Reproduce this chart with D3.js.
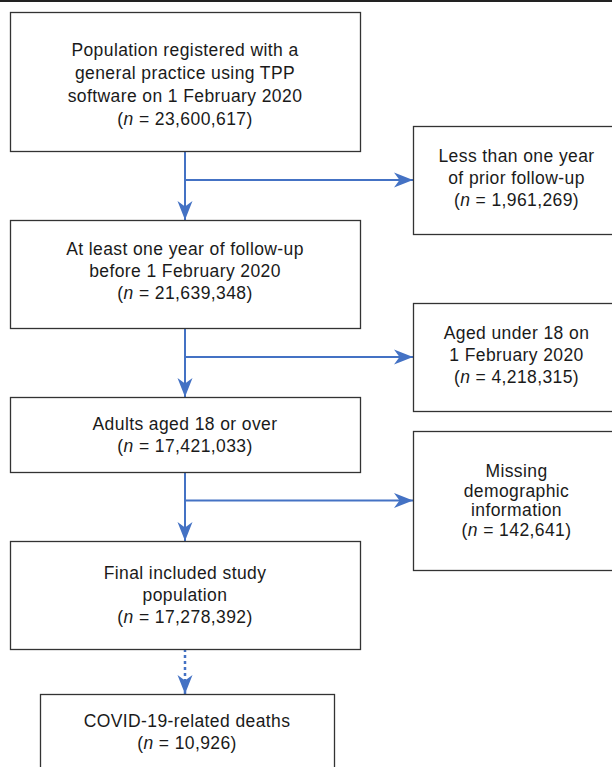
<!DOCTYPE html>
<html>
<head>
<meta charset="utf-8">
<script src="https://cdn.jsdelivr.net/npm/d3@7"></script>
<style>
  html, body { margin: 0; padding: 0; background: #fff; }
  svg { display: block; }
</style>
</head>
<body>
<svg id="chart" width="612" height="767"></svg>
<script>
// ---- data ----
const mainLabels = [
  ["Population registered with a", "general practice using TPP", "software on 1 February 2020"],
  ["At least one year of follow-up", "before 1 February 2020"],
  ["Adults aged 18 or over"],
  ["Final included study", "population"],
  ["COVID-19-related deaths"]
];
const mainCounts = [23600617, 21639348, 17421033, 17278392, 10926];
const excludedLabels = [
  ["Less than one year", "of prior follow-up"],
  ["Aged under 18 on", "1 February 2020"],
  ["Missing", "demographic", "information"]
];
const excludedCounts = [1961269, 4218315, 142641];

// ---- layout (positions / sizes) ----
const mainBoxes = [
  {x: 10, y: 12, w: 350, h: 139, ty: 3, lh: 22.7},
  {x: 10, y: 220, w: 350, h: 108, ty: -3},
  {x: 10, y: 397, w: 350, h: 75, ty: 0},
  {x: 10, y: 541, w: 350, h: 108, ty: 0},
  {x: 40, y: 694, w: 294, h: 100, ty: 0, fixedTop: 727}
];
const sideBoxes = [
  {x: 413, y: 126, w: 207, h: 108, ty: -2},
  {x: 413, y: 303, w: 207, h: 108, ty: -2},
  {x: 413, y: 431, w: 207, h: 139, ty: 0, lh: 19.8}
];
const LH = 22;
const BLUE = "#4472C4";
const fmt = d3.format(",");

const svg = d3.select("#chart");

// top rule
svg.append("line").attr("x1", 0).attr("x2", 612).attr("y1", 1).attr("y2", 1)
  .attr("stroke", "#222").attr("stroke-width", 2);

// marker
const defs = svg.append("defs");
defs.append("marker")
  .attr("id", "arrow").attr("markerUnits", "userSpaceOnUse")
  .attr("viewBox", "-20 -9 21 18").attr("refX", 0).attr("refY", 0)
  .attr("markerWidth", 21).attr("markerHeight", 18).attr("orient", "auto")
  .append("path").attr("d", "M0,0 L-19,-7.5 L-13.5,0 L-19,7.5 Z").attr("fill", BLUE);

function drawBox(g, box, lines, count) {
  g.append("rect").attr("x", box.x + 0.5).attr("y", box.y + 0.5)
    .attr("width", box.w).attr("height", box.h)
    .attr("fill", "#fff").attr("stroke", "#333").attr("stroke-width", 1.3);
  const all = lines.concat([null]);
  const lh = box.lh || LH;
  const cx = box.x + box.w / 2;
  let first;
  if (box.fixedTop) first = box.fixedTop;
  else first = box.y + box.h / 2 + 6 - (all.length - 1) * lh / 2 + box.ty;
  all.forEach((ln, i) => {
    const t = g.append("text")
      .attr("x", cx).attr("y", first + i * lh)
      .attr("text-anchor", "middle")
      .attr("font-family", "'Liberation Sans', Arial, Helvetica, sans-serif")
      .attr("font-size", 17.5).attr("letter-spacing", 0.4)
      .attr("fill", "#1a1a1a");
    if (ln !== null) t.text(ln);
    else {
      t.append("tspan").text("(");
      t.append("tspan").attr("font-style", "italic").text("n");
      t.append("tspan").text(" = " + fmt(count) + ")");
    }
  });
}

// arrows
const vx = 185;
const arrows = svg.append("g").attr("fill", "none").attr("stroke", BLUE).attr("stroke-width", 2);
for (let i = 0; i < mainBoxes.length - 1; i++) {
  const a = mainBoxes[i], b = mainBoxes[i + 1];
  arrows.append("line").attr("x1", vx).attr("x2", vx)
    .attr("y1", a.y + a.h).attr("y2", b.y)
    .attr("stroke-dasharray", i === mainBoxes.length - 2 ? "3,3" : null)
    .attr("stroke-width", i === mainBoxes.length - 2 ? 2.5 : 2)
    .attr("marker-end", "url(#arrow)");
}
sideBoxes.forEach(s => {
  const y = s.y + s.h / 2;
  arrows.append("line").attr("x1", vx).attr("x2", s.x)
    .attr("y1", y).attr("y2", y).attr("marker-end", "url(#arrow)");
});

const boxes = svg.append("g");
mainBoxes.forEach((b, i) => drawBox(boxes, b, mainLabels[i], mainCounts[i]));
sideBoxes.forEach((b, i) => drawBox(boxes, b, excludedLabels[i], excludedCounts[i]));
</script>
</body>
</html>
